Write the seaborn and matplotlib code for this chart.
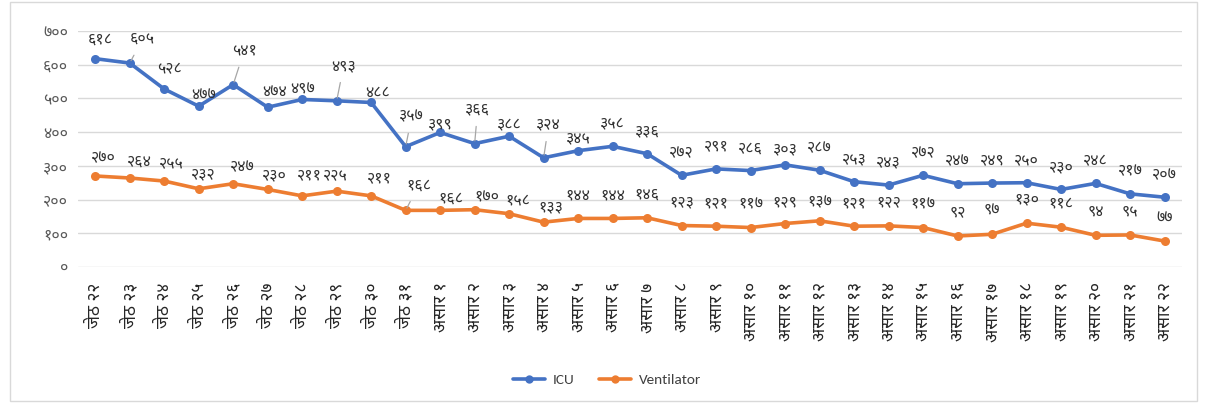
import numpy as np
import pandas as pd
import matplotlib
matplotlib.use("Agg")
import matplotlib.pyplot as plt
from matplotlib.ticker import FuncFormatter, MultipleLocator
from matplotlib.lines import Line2D
import seaborn as sns

# ---------------- data ----------------
months = ["जेठ"] * 10 + ["असार"] * 22
days = list(range(22, 32)) + list(range(1, 23))
icu = [618, 605, 528, 477, 541, 474, 497, 493, 488, 357, 399, 366, 388, 324, 345, 358,
       336, 272, 291, 286, 303, 287, 253, 243, 272, 247, 249, 250, 230, 248, 217, 207]
ventilator = [270, 264, 255, 232, 247, 230, 211, 225, 211, 168, 168, 170, 158, 133, 144, 144,
              146, 123, 121, 117, 129, 137, 121, 122, 117, 92, 97, 130, 118, 94, 95, 77]
series_names = ["ICU", "Ventilator"]

DEV = str.maketrans("0123456789", "०१२३४५६७८९")
def dev(n):
    return str(n).translate(DEV)

categories = [f"{m} {dev(d)}" for m, d in zip(months, days)]

sns.set_theme(style="white")
plt.rcParams["font.family"] = ["Noto Sans Devanagari", "Carlito", "DejaVu Sans"]

n = len(categories)
df = pd.DataFrame({
    "idx": list(range(n)) * 2,
    "value": icu + ventilator,
    "series": [series_names[0]] * n + [series_names[1]] * n,
})
colors = {"ICU": "#4472C4", "Ventilator": "#ED7D31"}

fig = plt.figure(figsize=(12.07, 4.03), dpi=100)
ax = fig.add_axes([0.0646, 0.3375, 0.9145, 0.5855])

sns.lineplot(data=df, x="idx", y="value", hue="series", palette=colors,
             marker="o", markersize=6.5, markeredgewidth=0, linewidth=2.6,
             ax=ax, legend=False)

ax.set_xlim(-0.5, n - 0.5)
ax.set_ylim(0, 700)
ax.yaxis.set_major_locator(MultipleLocator(100))
ax.yaxis.set_major_formatter(FuncFormatter(lambda v, p: dev(int(v))))
ax.set_xticks(range(n))
ax.set_xticklabels(categories, rotation=90, fontsize=12.5, color="#262626")
ax.tick_params(axis="y", labelsize=11.5, colors="#595959", pad=7, length=0)
ax.tick_params(axis="x", length=0, pad=11)
ax.grid(axis="y", color="#D9D9D9", linewidth=1)
ax.set_axisbelow(True)
for s in ax.spines.values():
    s.set_visible(False)
ax.set_xlabel("")
ax.set_ylabel("")

# label placement (pixel offsets of label centre from point); leader-line labels separate
PX = 0.72
icu_off = {0: (5, 19), 2: (5, 20), 3: (5, 11), 5: (7, 15), 6: (0, 10), 8: (6, 9),
           10: (0, 8.5), 12: (0, 11), 14: (0, 12), 20: (0, 16)}
icu_lead = {1: (13, 24), 4: (11, 34), 7: (7, 35), 9: (6, 30), 11: (3, 34), 13: (5, 33)}
vent_off = {0: (8, 18), 1: (10, 16), 2: (7, 18), 3: (5, 15), 4: (9, 17), 5: (7, 14.5),
            6: (7, 21), 7: (-1, 16), 8: (8, 18), 10: (11, 12), 11: (12, 12), 12: (9, 13),
            13: (7, 15), 20: (0, 21), 21: (0, 19)}
vent_lead = {9: (13, 25)}

FS = 11.5
def label(series, offs, leads, default):
    for i, v in enumerate(series):
        if i in leads:
            dx, dy = leads[i]
            ax.annotate(dev(v), (i, v), xytext=(dx * PX, dy * PX), textcoords="offset points",
                        ha="center", va="center", fontsize=FS, color="#333333",
                        arrowprops=dict(arrowstyle="-", color="#A6A6A6", lw=0.9,
                                        shrinkA=4, shrinkB=2))
        else:
            dx, dy = offs.get(i, default)
            ax.annotate(dev(v), (i, v), xytext=(dx * PX, dy * PX), textcoords="offset points",
                        ha="center", va="center", fontsize=FS, color="#333333")

label(icu, icu_off, icu_lead, (0, 22.5))
label(ventilator, vent_off, vent_lead, (0, 23.5))

handles = [Line2D([0], [0], color=colors[s], lw=2.6, marker="o", markersize=6,
                  markeredgewidth=0) for s in series_names]
fig.legend(handles, series_names, loc="center", bbox_to_anchor=(0.503, 0.057),
           ncol=2, frameon=False, handlelength=2.1, columnspacing=1.6, handletextpad=0.5,
           labelcolor="#404040", prop={"family": "Carlito", "size": 11})

fig.patches.append(plt.Rectangle((0.008, 0.005), 0.984, 0.99, transform=fig.transFigure,
                                 fill=False, edgecolor="#D9D9D9", linewidth=1))

fig.savefig("out.png", dpi=100)
